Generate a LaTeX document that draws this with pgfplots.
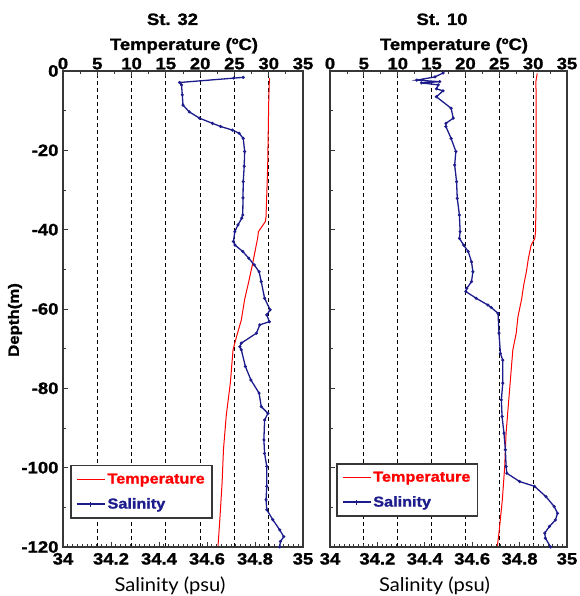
\documentclass[border=0pt]{standalone}
\usepackage{fontspec}
\setmainfont{Liberation Sans}[FakeStretch=1.12, BoldFeatures={FakeBold=1.2}]
\newfontfamily\salfont{Lato}[FakeStretch=1.06]
\usepackage{pgfplots}
\pgfplotsset{compat=1.18}
\definecolor{salblue}{RGB}{28,28,140}
\definecolor{frm}{RGB}{55,55,55}
\newcommand{\tl}{\bfseries\fontsize{16.5}{18}\selectfont}
\pgfplotsset{
  base/.style={scale only axis, height=476pt, ymin=-120, ymax=0,
    axis line style={frm, line width=1.3pt},
    tick style={frm, line width=0.8pt},
    tick align=inside, major tick length=5pt, minor tick length=3pt,
    tick label style={font=\tl}},
  temp/.style={base, xmin=0, xmax=35,
    xtick={0,5,10,15,20,25,30,35}, xticklabels={0,5,10,15,20,25,30,35},
    minor x tick num=1, xtick pos=right, xticklabel pos=right,
    xmajorgrids, grid style={black, dash pattern=on 4pt off 3pt, line width=0.8pt},
    ytick={-120,-100,-80,-60,-40,-20,0}, minor ytick={-110,-90,-70,-50,-30,-10},
    ytick pos=left,
    xticklabel style={yshift=-2pt}, yticklabel style={xshift=-1pt}},
  sal/.style={base, xmin=34, xmax=35,
    xtick={34,34.2,34.4,34.6,34.8,35}, xticklabels={34,34.2,34.4,34.6,34.8,35},
    minor x tick num=9, axis x line*=bottom, axis y line=none,
    xticklabel style={yshift=-2.5pt},
    legend style={anchor=south west, draw=frm, line width=1.7pt, fill=white,
      font=\bfseries\fontsize{14.5}{16}\selectfont, row sep=9pt,
      inner xsep=5pt, inner ysep=6pt, cells={anchor=west}}},
  timg/.style={legend image code/.code={\draw[red, line width=1.3pt] (0pt,0pt) -- (28pt,0pt);}},
  simg/.style={legend image code/.code={\draw[salblue, line width=1.5pt] (0pt,0pt) -- (28pt,0pt);
      \draw[salblue, line width=1.1pt] (14pt,-2.5pt) -- (14pt,2.5pt);}},
}
\begin{document}
\begin{tikzpicture}
\path[use as bounding box] (0,0) rectangle (579pt,596pt);
% ---------- St. 32 ----------
\begin{axis}[temp, at={(63pt,49pt)}, anchor=south west, width=240pt,
  yticklabels={-120,-100,-80,-60,-40,-20,0}]
\addplot[red, line width=1pt] coordinates {
(30.1,-1.8) (30.0,-8) (29.85,-24) (29.7,-32) (29.6,-37) (29.5,-38) (29.1,-39)
(28.5,-40.5) (28.4,-42) (27.6,-49) (27.1,-53) (26.5,-57.5) (26.0,-62.8)
(25.3,-67) (24.8,-70.3) (24.4,-78.7) (23.8,-87) (23.4,-95.5) (23.2,-103.9)
(22.9,-112.3) (22.6,-120)};
\end{axis}
\begin{axis}[sal, at={(63pt,49pt)}, anchor=south west, width=240pt,
  legend style={at={(0.03,0.059)}}]
\addlegendimage{timg}\addlegendentry{\textcolor{red}{Temperature}}
\addlegendimage{simg}\addlegendentry{\textcolor{salblue}{Salinity}}
\addplot[salblue, line width=1.3pt, mark=*, mark size=0.8pt, forget plot] coordinates {
(34.751,-1.6) (34.711,-1.8) (34.486,-2.9) (34.494,-3.5) (34.497,-6) (34.5,-8.6)
(34.526,-10.3) (34.569,-11.9) (34.623,-13.2) (34.657,-14) (34.706,-14.9)
(34.734,-15.7) (34.751,-17) (34.757,-20.3) (34.755,-24) (34.751,-27.9) (34.750,-32)
(34.749,-36.3) (34.745,-37.1) (34.729,-38.8) (34.716,-40.5) (34.71,-43)
(34.717,-43.9) (34.749,-45.5) (34.774,-47.2) (34.797,-48.9) (34.817,-50.6)
(34.826,-53.1) (34.84,-57.3) (34.863,-60.2) (34.849,-61.5) (34.86,-63.2)
(34.82,-64) (34.806,-66.1) (34.743,-68.6) (34.737,-69.5) (34.743,-70.3)
(34.76,-74.5) (34.783,-77.9) (34.817,-81.2) (34.826,-84.6) (34.854,-86.3)
(34.84,-88) (34.837,-93) (34.84,-96.4) (34.849,-99.7) (34.849,-104.7)
(34.846,-108.1) (34.849,-110.6) (34.874,-113.1) (34.903,-115.7) (34.92,-117.4)
(34.906,-118.6) (34.903,-120)};
\end{axis}
% ---------- St. 10 ----------
\begin{axis}[temp, at={(330pt,49pt)}, anchor=south west, width=237pt,
  yticklabels={}]
\addplot[red, line width=1pt] coordinates {
(30.6,-0.6) (30.4,-2.7) (30.45,-6.9) (30.45,-15.3) (30.45,-23.7) (30.45,-32.1)
(30.35,-40.5) (30.25,-42.2) (29.7,-43.9) (29.3,-47.2) (29.0,-50.6) (28.6,-54)
(28.3,-57.5) (27.75,-62) (27.5,-66.1) (27.0,-70.3) (26.8,-74.5) (26.4,-82.9)
(26.0,-91.3) (25.8,-99.7) (25.45,-108.1) (24.95,-116.5) (24.7,-120)};
\end{axis}
\begin{axis}[sal, at={(330pt,49pt)}, anchor=south west, width=237pt,
  legend style={at={(0.025,0.063)}}]
\addlegendimage{timg}\addlegendentry{\textcolor{red}{Temperature}}
\addlegendimage{simg}\addlegendentry{\textcolor{salblue}{Salinity}}
\addplot[salblue, line width=1.3pt, mark=*, mark size=0.8pt, forget plot] coordinates {
(34.477,-0.5) (34.443,-1.5) (34.366,-2.3) (34.463,-2.7) (34.386,-3.0)
(34.457,-3.5) (34.449,-4.5) (34.477,-5.0) (34.449,-6.5) (34.511,-9.4)
(34.52,-11.9) (34.489,-13.2) (34.489,-14) (34.511,-17) (34.531,-20.3)
(34.526,-23.7) (34.534,-27.9) (34.537,-32.1) (34.546,-36.3) (34.549,-40.5)
(34.546,-42.2) (34.564,-43.9) (34.583,-45.5) (34.597,-48.1) (34.603,-50.6)
(34.597,-53.1) (34.577,-54.8) (34.573,-55.6) (34.617,-57.3) (34.666,-59)
(34.68,-59.6) (34.709,-61.1) (34.713,-66.1) (34.719,-71.2) (34.729,-72.9)
(34.729,-78.7) (34.723,-82.9) (34.726,-87.1) (34.734,-91.3) (34.74,-95.5)
(34.743,-99.7) (34.746,-101.4) (34.8,-103.5) (34.863,-104.7) (34.911,-107.3)
(34.946,-109.8) (34.96,-111.5) (34.951,-113.2) (34.926,-114.8) (34.906,-116.5)
(34.909,-117.8) (34.931,-120)};
\end{axis}
% ---------- labels ----------
\node[anchor=base, font=\tl] at (172.5pt,571pt) {St. 32};
\node[anchor=base, font=\tl] at (442pt,571pt) {St. 10};
\node[anchor=base, font=\tl] at (184pt,546pt) {Temperature (ºC)};
\node[anchor=base, font=\tl] at (454pt,546pt) {Temperature (ºC)};
\node[anchor=base, font=\salfont\fontsize{19}{21}\selectfont] at (170pt,5pt) {Salinity (psu)};
\node[anchor=base, font=\salfont\fontsize{19}{21}\selectfont] at (434.5pt,5pt) {Salinity (psu)};
\node[rotate=90, font=\tl\fontsize{15}{17}\selectfont] at (15pt,276pt) {Depth(m)};
\end{tikzpicture}
\end{document}
